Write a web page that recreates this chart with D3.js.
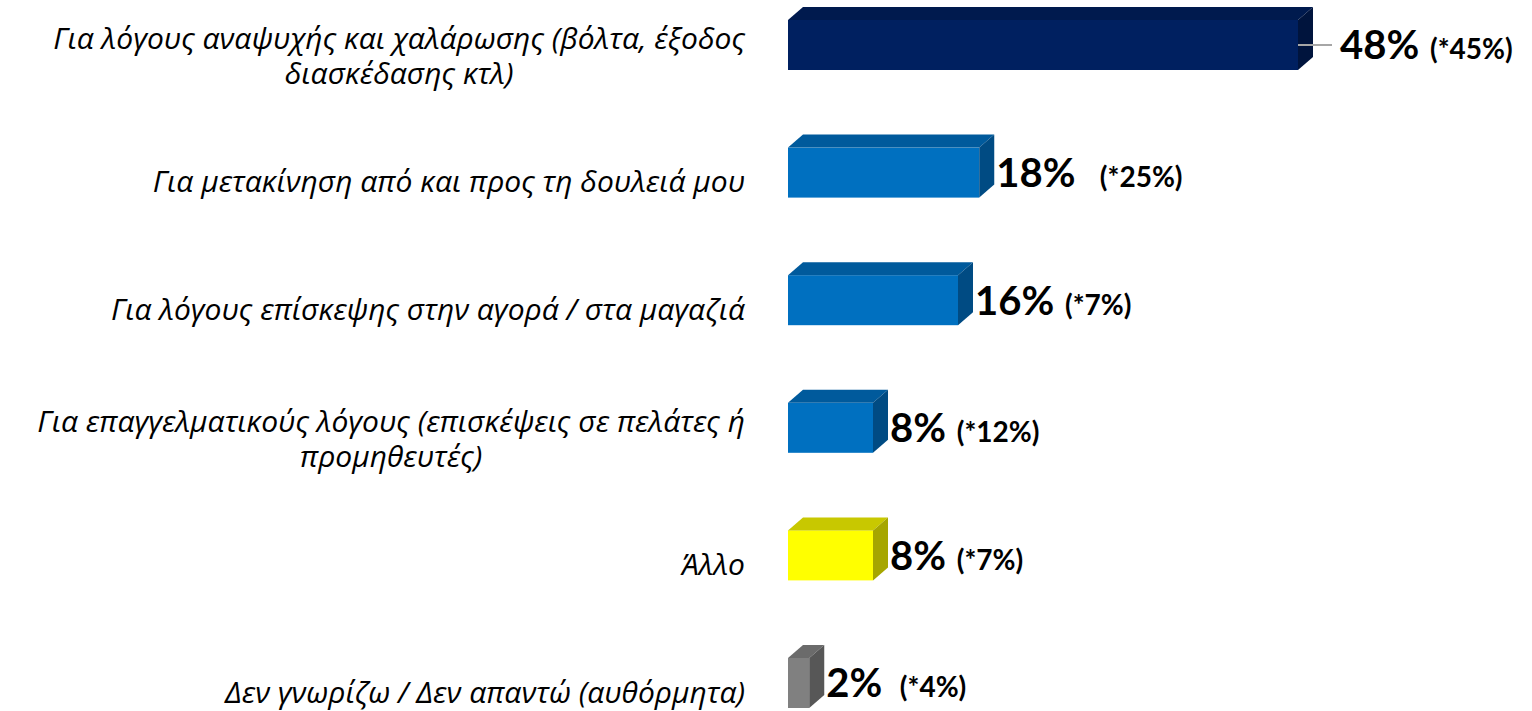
<!DOCTYPE html>
<html>
<head>
<meta charset="utf-8">
<script src="https://cdn.jsdelivr.net/npm/d3@7"></script>
<style>
  body { margin: 0; background: #fff; }
  svg { display: block; }
  .cat { font-family: "Open Sans", sans-serif; font-style: italic; fill: #000; }
  .val { font-family: Lato, sans-serif; font-weight: 700; fill: #000; white-space: pre; }
</style>
</head>
<body>
<div id="chart"></div>
<script>
// categories (lines of each label) and values
var categories = [
    ["Για λόγους αναψυχής και χαλάρωσης (βόλτα, έξοδος", "διασκέδασης κτλ)"],
    ["Για μετακίνηση από και προς τη δουλειά μου"],
    ["Για λόγους επίσκεψης στην αγορά / στα μαγαζιά"],
    ["Για επαγγελματικούς λόγους (επισκέψεις σε πελάτες ή", "προμηθευτές)"],
    ["Άλλο"],
    ["Δεν γνωρίζω / Δεν απαντώ (αυθόρμητα)"]
];
var values = [48, 18, 16, 8, 8, 2];
var valueLabels = ["48%", "18%", "16%", "8%", "8%", "2%"];
var previousLabels = [" (*45%)", "   (*25%)", " (*7%)", " (*12%)", " (*7%)", "  (*4%)"];

// colours: front, top, side
var barColors = [
    ["#002060", "#001a4e", "#00143d"],
    ["#0070c0", "#005a9c", "#004b83"],
    ["#0070c0", "#005a9c", "#004b83"],
    ["#0070c0", "#005a9c", "#004b83"],
    ["#ffff00", "#c8c800", "#a6a600"],
    ["#808080", "#6b6b6b", "#575757"]
];

var width = 1532, height = 711;
var barH = 50, depthX = 15, depthY = 13;

var svg = d3.select("#chart")
    .append("svg")
    .attr("width", width)
    .attr("height", height);

var ids = d3.range(values.length);

var x = d3.scaleLinear()
    .domain([0, 48])
    .range([788, 1298]);

var y = d3.scalePoint()
    .domain(ids)
    .range([45, 683]);

var bars = svg.selectAll(".bar")
    .data(ids)
    .enter().append("g")
    .attr("class", "bar");

// front face
bars.append("rect")
    .attr("x", x(0))
    .attr("y", function (i) { return y(i) - barH / 2; })
    .attr("width", function (i) { return x(values[i]) - x(0); })
    .attr("height", barH)
    .style("fill", function (i) { return barColors[i][0]; });

// top face
bars.append("path")
    .attr("d", function (i) {
        var x0 = x(0), x1 = x(values[i]), t = y(i) - barH / 2;
        return "M" + x0 + "," + t + "L" + (x0 + depthX) + "," + (t - depthY) +
            "L" + (x1 + depthX) + "," + (t - depthY) + "L" + x1 + "," + t + "Z";
    })
    .style("fill", function (i) { return barColors[i][1]; });

// side face
bars.append("path")
    .attr("d", function (i) {
        var x1 = x(values[i]), t = y(i) - barH / 2;
        return "M" + x1 + "," + t + "L" + (x1 + depthX) + "," + (t - depthY) +
            "L" + (x1 + depthX) + "," + (t + barH - depthY) + "L" + x1 + "," + (t + barH) + "Z";
    })
    .style("fill", function (i) { return barColors[i][2]; });

// leader line for the first bar only
svg.append("line")
    .attr("x1", x(values[0]))
    .attr("x2", x(values[0]) + 34)
    .attr("y1", y(0))
    .attr("y2", y(0))
    .style("stroke", "#a6a6a6")
    .style("stroke-width", 2);

// value labels
var vals = svg.selectAll(".val")
    .data(ids)
    .enter().append("text")
    .attr("class", "val")
    .style("font-size", "40px")
    .attr("x", function (i) { return i === 0 ? x(values[i]) + 42 : x(values[i]) + depthX + 2; })
    .attr("y", function (i) { return y(i); })
    .attr("dy", "0.36em");

vals.append("tspan")
    .text(function (i) { return valueLabels[i]; });

vals.append("tspan")
    .attr("dx", 4)
    .style("font-size", "28px")
    .text(function (i) { return previousLabels[i]; });

// category labels, multi-line ones centred under their first line
var cats = svg.selectAll(".cat")
    .data(ids)
    .enter().append("text")
    .attr("class", "cat")
    .style("font-size", "30px")
    .style("font-weight", function (i) { return i >= 4 ? 500 : 400; });

cats.each(function (i) {
    var el = d3.select(this);
    var lines = categories[i];
    var lh = 35;
    var cy = lines.length > 1 ? y(i) + 11 - (lines.length - 1) * lh / 2 : y(i) + 9;
    var first = el.append("tspan")
        .attr("x", 745)
        .attr("y", cy)
        .attr("dy", "0.35em")
        .attr("text-anchor", "end")
        .text(lines[0]);
    if (lines.length > 1) {
        var mid = 745 - first.node().getComputedTextLength() / 2;
        lines.slice(1).forEach(function (ln, k) {
            el.append("tspan")
                .attr("x", mid)
                .attr("y", cy + (k + 1) * lh)
                .attr("dy", "0.35em")
                .attr("text-anchor", "middle")
                .text(ln);
        });
    }
});
</script>
</body>
</html>
